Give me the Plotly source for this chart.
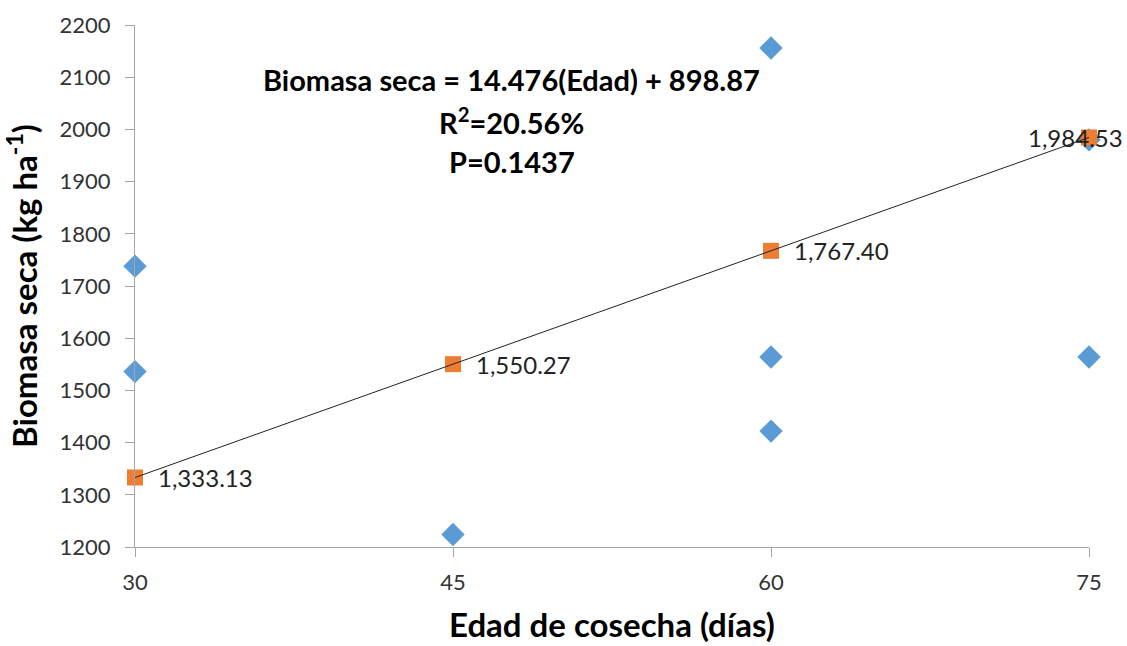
import plotly.graph_objects as go

# Individual observations (kg ha-1) by harvest age (days)
obs_edad = [30, 30, 45, 60, 60, 60, 75, 75]
obs_biomasa = [1738, 1536, 1224, 2156, 1564, 1422, 1564, 1980]

# Treatment means
media_edad = [30, 45, 60, 75]
media_biomasa = [1333.13, 1550.27, 1767.40, 1984.53]

# Linear regression fit
pendiente = 14.476
intercepto = 898.87

x_ticks = [30, 45, 60, 75]
y_ticks = [1200, 1300, 1400, 1500, 1600, 1700, 1800, 1900, 2000, 2100, 2200]

FONT = "Lato, 'Open Sans', sans-serif"

fig = go.Figure()

fig.add_trace(go.Scatter(
    x=obs_edad, y=obs_biomasa, mode="markers",
    marker=dict(symbol="diamond", size=18, color="#5B9BD5"),
    showlegend=False, hoverinfo="x+y", cliponaxis=False,
))

fit_x = [min(media_edad), max(media_edad)]
fit_y = [pendiente * v + intercepto for v in fit_x]

fig.add_trace(go.Scatter(
    x=media_edad, y=media_biomasa, mode="markers",
    marker=dict(symbol="square", size=16, color="#ED7D31"),
    showlegend=False, hoverinfo="x+y", cliponaxis=False,
))

fig.add_trace(go.Scatter(
    x=fit_x, y=fit_y, mode="lines",
    line=dict(color="#222222", width=1),
    showlegend=False, hoverinfo="skip", cliponaxis=False,
))

# Value labels for the means
for i, (xv, yv) in enumerate(zip(media_edad, media_biomasa)):
    last = i == len(media_edad) - 1
    fig.add_annotation(
        x=xv, y=yv, text=f"{yv:,.2f}", showarrow=False,
        xanchor="center" if last else "left",
        xshift=-14 if last else 21,
        font=dict(family=FONT, size=24, color="#222222"),
    )

stats = [
    f"<b>Biomasa seca = {pendiente}(Edad) + {intercepto}</b>",
    "<b>R<sup>2</sup>=20.56%</b>",
    "<b>P=0.1437</b>",
]
for k, s in enumerate(stats):
    fig.add_annotation(
        x=0.395, y=2095 - k * 78, xref="paper", yref="y",
        text=s, showarrow=False, xanchor="center", yanchor="middle",
        font=dict(family=FONT, size=29, color="#000000"),
    )

# X axis title placed below the tick labels
fig.add_annotation(
    x=0.5, y=-0.148, xref="paper", yref="paper",
    text="<b>Edad de cosecha (días)</b>", showarrow=False,
    xanchor="center", yanchor="middle", borderpad=0,
    font=dict(family=FONT, size=33, color="#000000"),
)

axis_common = dict(
    showgrid=False, zeroline=False, showline=True,
    linecolor="#A6A6A6", linewidth=1.3,
    ticks="outside", ticklen=9, tickcolor="#A6A6A6", tickwidth=1.3,
    tickfont=dict(family=FONT, size=22, color="#333333"),
)

fig.update_xaxes(
    range=[30, 75], tickvals=x_ticks, ticktext=[str(v) for v in x_ticks],
    ticklabelstandoff=6, automargin=False,
    **axis_common,
)
fig.update_yaxes(
    range=[1200, 2200], tickvals=y_ticks, ticklabelstandoff=10,
    automargin=False,
    title=dict(text="<b>Biomasa seca (kg ha<sup>-1</sup>)</b>", standoff=12,
               font=dict(family=FONT, size=33, color="#000000")),
    **axis_common,
)

fig.update_layout(
    width=1127, height=646,
    margin=dict(l=135, r=38, t=25, b=99),
    plot_bgcolor="white", paper_bgcolor="white",
)

fig.write_html("out.html")
